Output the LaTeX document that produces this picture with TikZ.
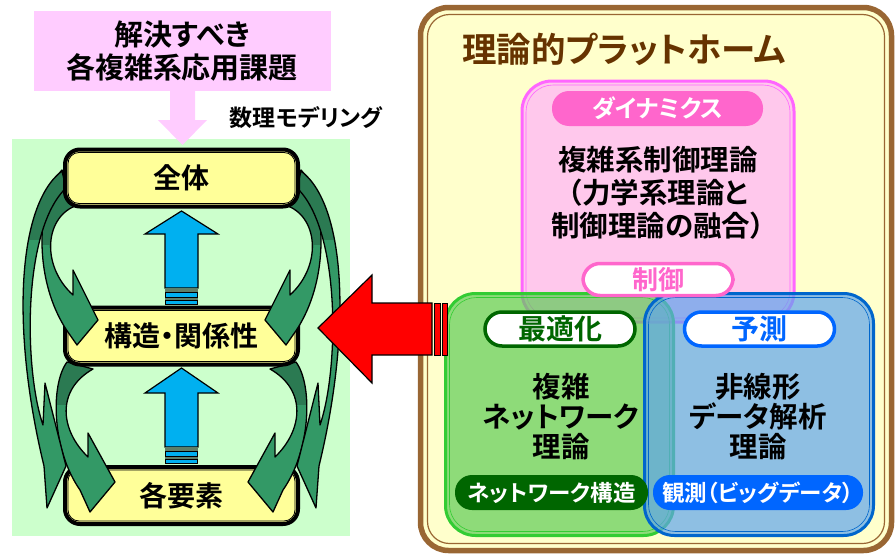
\documentclass[tikz,border=0pt]{standalone}
\usepackage{fontspec}
\setmainfont{Noto Sans CJK JP Bold}[RawFeature={+palt}]
\usetikzlibrary{calc}
\definecolor{panelgreen}{HTML}{CCFFCC}
\definecolor{pinkbox}{HTML}{FFCCFF}
\definecolor{boxyellow}{HTML}{FFFF99}
\definecolor{bluearr}{HTML}{00B0F0}
\definecolor{arrowgreen}{HTML}{339966}
\definecolor{arrowdark}{HTML}{2B7A52}
\definecolor{stripegray}{HTML}{5E7E68}
\definecolor{framebrown}{HTML}{996633}
\definecolor{titlebrown}{HTML}{663300}
\definecolor{frameyellow}{HTML}{FFFFCC}
\definecolor{dynborder}{HTML}{FF66FF}
\definecolor{dynfill}{HTML}{FFC8EC}
\definecolor{dynpill}{HTML}{FF66CC}
\definecolor{greenborder}{HTML}{33CC33}
\definecolor{greenfill}{HTML}{5FCC57}
\definecolor{darkgreen}{HTML}{006600}
\definecolor{blueborder}{HTML}{0066CC}
\definecolor{bluefill}{HTML}{5FA4ED}
\definecolor{bluepill}{HTML}{0066FF}
\newcommand\fsz[2]{\fontsize{#1}{#2}\selectfont}
\tikzset{
  garrowline/.style={draw=black, line width=1.3pt, line join=round},
  ybox/.style={draw=black, line width=4pt, fill=boxyellow, rounded corners=15pt,
    minimum width=233pt, minimum height=57pt, inner sep=0pt, font=\fsz{28}{28}},
  innerline/.style={draw=black, line width=0.8pt, rounded corners=11pt},
  blockarrow/.style={draw=black, line width=1.2pt, line join=miter},
  pill/.style={rounded corners=17pt, minimum height=35pt, inner sep=0pt},
}
\newcommand\myArrA[1]{\path[#1] (62,170) .. controls (38,195) and (30,280) .. (70,335) -- (77,345) -- (98,320) -- (73,270) -- (73,295) .. controls (40,265) and (45,215) .. (78,205) -- cycle;}
\newcommand\myArrB[1]{\path[#1] (62,171) .. controls (17,205) and (11,330) .. (44,466) -- (47,508) -- (66,466) -- (45,383) -- (43,425) .. controls (24,370) and (22,230) .. (66,188) -- cycle;}
\newcommand\myArrC[1]{\path[#1] (67,362) .. controls (50,385) and (52,450) .. (80,490) -- (90,512) -- (115,482) -- (88,433) -- (88,457) .. controls (60,430) and (56,390) .. (93,369) -- cycle;}
\newcommand\greenArrow[2]{%
  #1{fill=arrowgreen}
  \begin{scope}#1{clip}\fill[arrowdark] (-50,0) rectangle (400,#2);\end{scope}
  #1{garrowline}}
\begin{document}
\begin{tikzpicture}[x=1pt,y=-1pt]
\useasboundingbox (0,0) rectangle (895,554);
% ---------- left part ----------
\fill[panelgreen] (12,139) rectangle (350,536);
\node[fill=pinkbox, minimum width=297pt, minimum height=80pt, inner sep=0pt, align=center, font=\fsz{29}{33}] (prob) at (182,51) {解決すべき\\各複雑系応用課題};
\fill[pinkbox] (170,91) -- (195,91) -- (195,120) -- (207,120) -- (182.5,145) -- (158,120) -- (170,120) -- cycle;
\node[font=\fsz{23}{23}, inner sep=0pt] (model) at (306,118) {数理モデリング};
% bottom box, then C arrows
\node[ybox] (elem) at (181.5,495.5) {各要素};
\draw[innerline] ($(elem.south west)+(5pt,5pt)$) rectangle ($(elem.north east)+(-5pt,-5pt)$);
\greenArrow{\myArrC}{405}
\begin{scope}[xshift=363pt, xscale=-1]\greenArrow{\myArrC}{405}\end{scope}
% middle box
\node[ybox] (struct) at (181.5,336) {構造・関係性};
\draw[innerline] ($(struct.south west)+(5pt,5pt)$) rectangle ($(struct.north east)+(-5pt,-5pt)$);
\greenArrow{\myArrA}{245}
\begin{scope}[xshift=363pt, xscale=-1]\greenArrow{\myArrA}{245}\end{scope}
\greenArrow{\myArrB}{240}
\begin{scope}[xshift=363pt, xscale=-1]\greenArrow{\myArrB}{240}\end{scope}
% top box
\node[ybox] (whole) at (181.5,178) {全体};
\draw[innerline] ($(whole.south west)+(5pt,5pt)$) rectangle ($(whole.north east)+(-5pt,-5pt)$);
% blue arrows
\draw[blockarrow, fill=bluearr] (181.5,211) -- (218,234) -- (198,234) -- (198,288) -- (165,288) -- (165,234) -- (145,234) -- cycle;
\fill[stripegray] (165,288) rectangle (198,305);
\draw[fill=bluearr, line width=0.8pt] (165.5,292) rectangle (197.5,297);
\draw[fill=bluearr, line width=0.8pt] (165.5,300) rectangle (197.5,304);
\draw[blockarrow, fill=bluearr] (181.5,368) -- (218,393) -- (198,393) -- (198,447) -- (165,447) -- (165,393) -- (145,393) -- cycle;
\fill[stripegray] (165,447) rectangle (198,464);
\draw[fill=bluearr, line width=0.8pt] (165.5,451) rectangle (197.5,456);
\draw[fill=bluearr, line width=0.8pt] (165.5,459) rectangle (197.5,463);
% ---------- right frame ----------
\draw[framebrown, line width=5.5pt, fill=frameyellow, rounded corners=28pt] (420.5,7.5) rectangle (891.5,550.5);
\draw[framebrown, line width=1.2pt, rounded corners=22pt] (427.5,14.5) rectangle (884.5,543.5);
\node[text=titlebrown, font=\fsz{34.5}{34.5}, inner sep=0pt] (title) at (624,49) {理論的プラットホーム};
% dynamics
\draw[draw=dynborder, line width=3pt, fill=dynfill, rounded corners=30pt] (522,81) rectangle (794,322);
\draw[draw=dynborder, line width=0.6pt, rounded corners=27pt] (526,85) rectangle (790,318);
\node[pill, fill=dynpill, minimum width=211pt, text=white, font=\fsz{24}{24}] (dyn) at (657.5,108.5) {ダイナミクス};
\node[align=center, font=\fsz{28.5}{33}, inner sep=0pt] (dyntext) at (658,193) {複雑系制御理論\\（力学系理論と\\制御理論の融合）};
% network (green)
\draw[draw=greenborder, line width=3pt, fill=greenfill, fill opacity=0.7, rounded corners=30pt] (445.5,293.5) rectangle (673.5,535.5);
\draw[draw=greenborder, line width=0.6pt, rounded corners=27pt] (449.5,297.5) rectangle (669.5,531.5);
% data (blue)
\draw[draw=blueborder, line width=3pt, fill=bluefill, fill opacity=0.7, rounded corners=30pt] (644.5,293.5) rectangle (873.5,535.5);
\draw[draw=blueborder, line width=0.6pt, rounded corners=27pt] (648.5,297.5) rectangle (869.5,531.5);
% pills
\node[pill, draw=dynpill, line width=3.5pt, fill=white, minimum width=150pt, minimum height=32pt, text=dynpill, font=\fsz{26}{26}] (ctrl) at (658,279.5) {制御};
\node[pill, draw=darkgreen, line width=3.5pt, fill=white, minimum width=150pt, minimum height=34pt, text=darkgreen, font=\fsz{28}{28}] (opt) at (560,329) {最適化};
\node[pill, draw=bluepill, line width=3.5pt, fill=white, minimum width=150pt, minimum height=34pt, text=bluepill, font=\fsz{28}{28}] (pred) at (759.5,329) {予測};
\node[align=center, font=\fsz{28.5}{30}, inner sep=0pt] (nettext) at (561,417) {複雑\\ネットワーク\\理論};
\node[align=center, font=\fsz{28.5}{30}, inner sep=0pt] (datatext) at (758,417) {非線形\\データ解析\\理論};
\node[pill, fill=darkgreen, minimum width=193pt, text=white, font=\fsz{22.5}{22.5}] (netstruct) at (551.5,492.5) {ネットワーク構造};
\node[pill, fill=bluepill, minimum width=210pt, text=white, font=\fsz{22.5}{22.5}] (obs) at (758,492.5) {観測（ビッグデータ）};
% red arrow
\draw[blockarrow, fill=red] (318,328) -- (372,275) -- (372,303) -- (432,303) -- (432,355) -- (372,355) -- (372,383) -- cycle;
\draw[fill=red, line width=1pt] (434,303) rectangle (440,355);
\draw[fill=red, line width=1pt] (442,303) rectangle (447,355);
\end{tikzpicture}
\end{document}
